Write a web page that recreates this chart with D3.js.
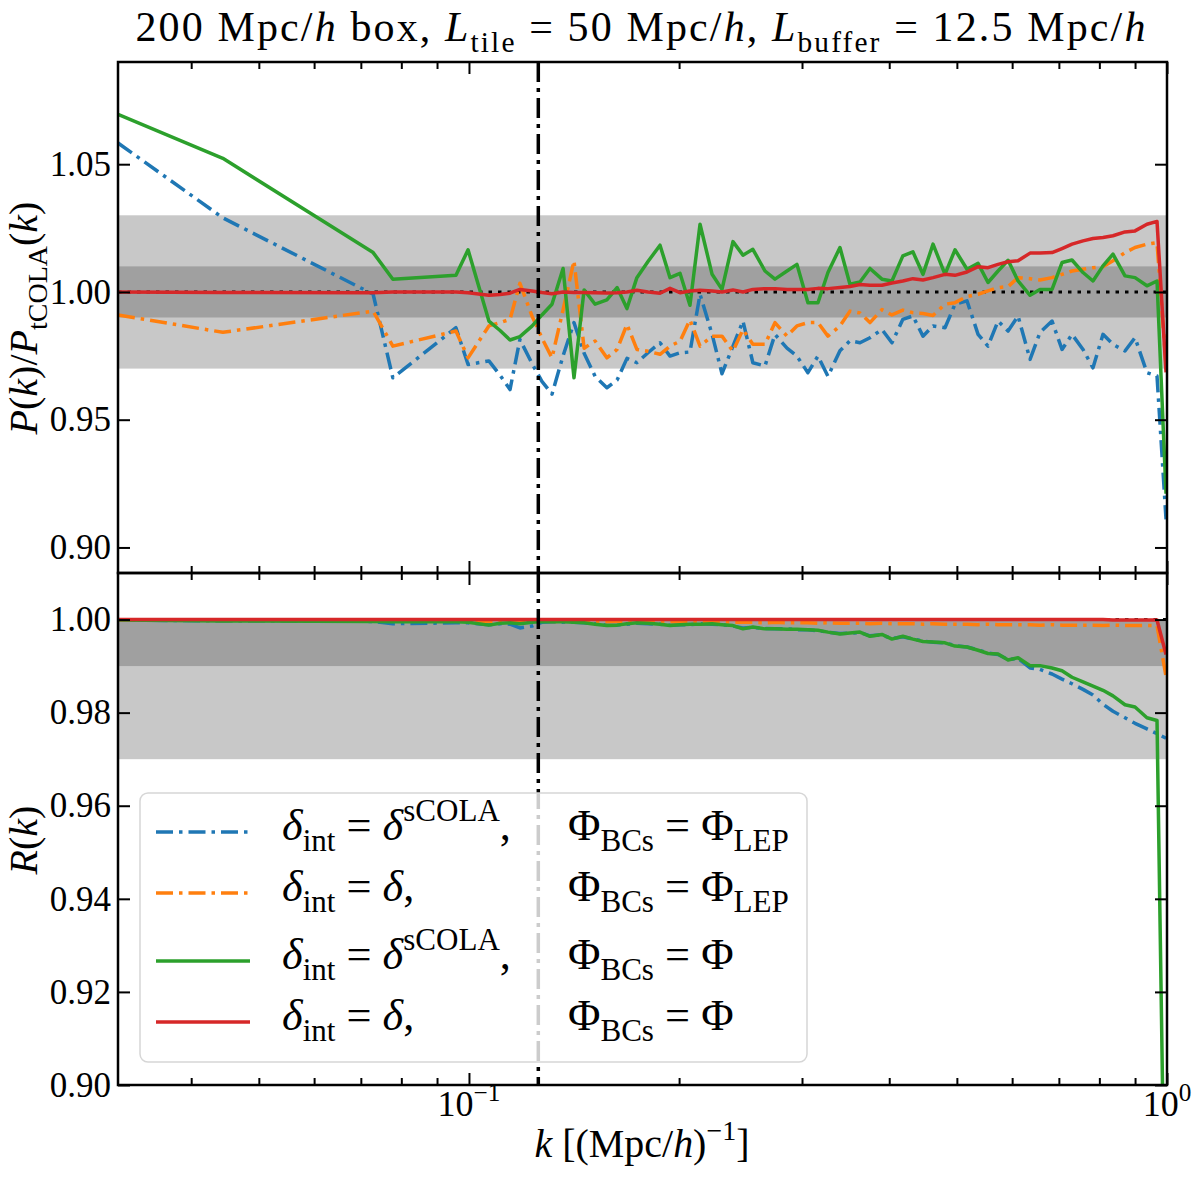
<!DOCTYPE html>
<html>
<head>
<meta charset="utf-8">
<script src="https://cdn.jsdelivr.net/npm/d3@7"></script>
<style>
  body { margin: 0; background: #fff; }
  svg { display: block; }
  text { font-family: "Liberation Serif", "DejaVu Serif", serif; fill: #000; white-space: pre; }
</style>
</head>
<body>
<svg id="chart" width="1200" height="1177"></svg>
<script>
// k bins, (Mpc/h)^-1
const kValues = [
  0.03142, 0.0444, 0.0729, 0.0778, 0.0958, 0.0997, 0.1068, 0.1108, 0.1145, 0.1183,
  0.1231, 0.1272, 0.1315, 0.1364, 0.1414, 0.1462, 0.1516, 0.1576, 0.1630, 0.1684,
  0.1740, 0.1805, 0.1878, 0.1941, 0.2006, 0.2073, 0.2143, 0.2230, 0.2304, 0.2389,
  0.2469, 0.2551, 0.2655, 0.2744, 0.2855, 0.2950, 0.3059, 0.3162, 0.3268, 0.3400,
  0.3514, 0.3632, 0.3754, 0.3905, 0.4036, 0.4184, 0.4325, 0.4471, 0.4622, 0.4808,
  0.4969, 0.5170, 0.5362, 0.5541, 0.5727, 0.5920, 0.6118, 0.6365, 0.6577, 0.6844,
  0.7073, 0.7310, 0.7580, 0.7834, 0.8097, 0.8368, 0.8706, 0.8999, 0.9360, 0.9676,
  0.9968
]

// P(k)/P_tCOLA(k)
const ratioBlue = [
  1.0583, 1.0290, 0.9991, 0.9664, 0.9860, 0.9716, 0.9730, 0.9674, 0.9618, 0.9814,
  0.9720, 0.9650, 0.9600, 0.9750, 0.9880, 0.9760, 0.9670, 0.9625, 0.9655, 0.9740,
  0.9723, 0.9762, 0.9801, 0.9749, 0.9762, 0.9765, 0.9991, 0.9834, 0.9680, 0.9788,
  0.9886, 0.9723, 0.9710, 0.9834, 0.9780, 0.9749, 0.9684, 0.9749, 0.9670, 0.9770,
  0.9809, 0.9801, 0.9821, 0.9853, 0.9801, 0.9893, 0.9906, 0.9827, 0.9867, 0.9860,
  0.9952, 0.9965, 0.9834, 0.9788, 0.9886, 0.9847, 0.9906, 0.9736, 0.9841, 0.9886,
  0.9775, 0.9834, 0.9775, 0.9703, 0.9834, 0.9795, 0.9769, 0.9821, 0.9684, 0.9671,
  0.9110
]
const ratioOrange = [
  0.9910, 0.9842, 0.9925, 0.9788, 0.9847, 0.9742, 0.9867, 0.9880, 0.9893, 1.0034,
  0.9906, 0.9820, 0.9742, 0.9930, 1.0122, 0.9780, 0.9808, 0.9742, 0.9775, 0.9873,
  0.9775, 0.9768, 0.9756, 0.9788, 0.9807, 0.9891, 0.9788, 0.9827, 0.9827, 0.9768,
  0.9853, 0.9795, 0.9795, 0.9880, 0.9827, 0.9867, 0.9880, 0.9880, 0.9827, 0.9867,
  0.9925, 0.9918, 0.9880, 0.9931, 0.9910, 0.9929, 0.9919, 0.9916, 0.9908, 0.9952,
  0.9958, 0.9982, 0.9991, 1.0004, 1.0017, 1.0021, 1.0056, 1.0052, 1.0047, 1.0056,
  1.0069, 1.0082, 1.0089, 1.0095, 1.0099, 1.0122, 1.0154, 1.0174, 1.0187, 1.0193,
  0.9710
]
const ratioGreen = [
  1.0695, 1.0523, 1.0154, 1.0050, 1.0065, 1.0165, 0.9886, 0.9849, 0.9812, 0.9825,
  0.9866, 0.9910, 0.9952, 1.0092, 0.9664, 1.0008, 0.9952, 0.9969, 1.0017, 0.9935,
  1.0056, 1.0119, 1.0183, 1.0056, 1.0073, 0.9948, 1.0265, 1.0069, 1.0010, 1.0197,
  1.0144, 1.0167, 1.0082, 1.0050, 1.0082, 1.0108, 0.9958, 0.9958, 1.0076, 1.0174,
  1.0030, 1.0039, 1.0092, 1.0050, 1.0043, 1.0141, 1.0157, 1.0069, 1.0187, 1.0069,
  1.0165, 1.0089, 1.0112, 1.0037, 1.0082, 1.0124, 1.0043, 0.9987, 1.0010, 1.0010,
  1.0115, 1.0125, 1.0076, 1.0043, 1.0102, 1.0148, 1.0063, 1.0056, 1.0024, 1.0043,
  0.9210
]
const ratioRed = [
  1.0000, 0.9998, 0.9997, 1.0000, 1.0000, 0.9997, 0.9987, 0.9990, 0.9995, 1.0010,
  1.0004, 0.9998, 0.9993, 1.0000, 0.9998, 0.9998, 0.9997, 0.9996, 0.9997, 1.0000,
  1.0007, 1.0000, 0.9995, 1.0014, 0.9997, 1.0004, 1.0007, 1.0004, 1.0000, 1.0008,
  1.0000, 1.0010, 1.0013, 1.0013, 1.0010, 1.0010, 1.0010, 1.0014, 1.0013, 1.0017,
  1.0021, 1.0029, 1.0026, 1.0026, 1.0035, 1.0043, 1.0052, 1.0047, 1.0056, 1.0069,
  1.0065, 1.0078, 1.0099, 1.0095, 1.0108, 1.0118, 1.0122, 1.0152, 1.0152, 1.0154,
  1.0170, 1.0187, 1.0200, 1.0209, 1.0213, 1.0220, 1.0235, 1.0239, 1.0265, 1.0276,
  0.9685
]

// R(k)
const corrBlue = [
  0.9999, 0.9997, 0.9996, 0.9991, 0.9993, 0.9993, 0.9989, 0.9991, 0.9990, 0.9982,
  0.9986, 0.9994, 0.9995, 0.9994, 0.9994, 0.9993, 0.9991, 0.9988, 0.9988, 0.9990,
  0.9992, 0.9991, 0.9990, 0.9988, 0.9989, 0.9989, 0.9991, 0.9990, 0.9989, 0.9986,
  0.9982, 0.9983, 0.9981, 0.9980, 0.9980, 0.9978, 0.9978, 0.9976, 0.9973, 0.9970,
  0.9971, 0.9972, 0.9965, 0.9967, 0.9959, 0.9963, 0.9958, 0.9954, 0.9951, 0.9950,
  0.9944, 0.9941, 0.9935, 0.9928, 0.9925, 0.9914, 0.9917, 0.9896, 0.9893, 0.9883,
  0.9872, 0.9862, 0.9850, 0.9838, 0.9818, 0.9803, 0.9789, 0.9777, 0.9765, 0.9755,
  0.9745
]
const corrOrange = [
  0.9999, 0.9998, 0.9998, 0.9997, 0.9998, 0.9997, 0.9996, 0.9997, 0.9997, 0.9996,
  0.9997, 0.9997, 0.9996, 0.9996, 0.9997, 0.9996, 0.9996, 0.9995, 0.9996, 0.9996,
  0.9995, 0.9996, 0.9995, 0.9995, 0.9996, 0.9995, 0.9995, 0.9994, 0.9995, 0.9994,
  0.9994, 0.9994, 0.9993, 0.9994, 0.9993, 0.9993, 0.9993, 0.9992, 0.9993, 0.9992,
  0.9992, 0.9992, 0.9991, 0.9992, 0.9991, 0.9991, 0.9991, 0.9990, 0.9991, 0.9990,
  0.9990, 0.9990, 0.9989, 0.9990, 0.9989, 0.9989, 0.9989, 0.9989, 0.9988, 0.9989,
  0.9988, 0.9988, 0.9988, 0.9988, 0.9987, 0.9988, 0.9987, 0.9987, 0.9987, 0.9987,
  0.9878
]
const corrGreen = [
  0.9999, 0.9997, 0.9996, 0.9995, 0.9995, 0.9994, 0.9988, 0.9992, 0.9993, 0.9991,
  0.9994, 0.9996, 0.9995, 0.9995, 0.9994, 0.9993, 0.9990, 0.9987, 0.9988, 0.9991,
  0.9993, 0.9992, 0.9990, 0.9987, 0.9989, 0.9990, 0.9990, 0.9991, 0.9989, 0.9987,
  0.9980, 0.9984, 0.9980, 0.9980, 0.9979, 0.9979, 0.9978, 0.9977, 0.9973, 0.9969,
  0.9971, 0.9973, 0.9964, 0.9968, 0.9958, 0.9964, 0.9958, 0.9953, 0.9952, 0.9950,
  0.9943, 0.9941, 0.9934, 0.9927, 0.9926, 0.9913, 0.9918, 0.9901, 0.9901, 0.9896,
  0.9890, 0.9876, 0.9866, 0.9857, 0.9848, 0.9836, 0.9817, 0.9812, 0.9789, 0.9783,
  0.8500
]
const corrRed = [
  1.0000, 1.0000, 1.0000, 1.0000, 1.0000, 1.0000, 1.0000, 1.0000, 1.0000, 1.0000,
  1.0000, 1.0000, 1.0000, 1.0000, 1.0000, 1.0000, 1.0000, 1.0000, 1.0000, 1.0000,
  1.0000, 1.0000, 1.0000, 1.0000, 1.0000, 1.0000, 1.0000, 1.0000, 1.0000, 1.0000,
  1.0000, 1.0000, 1.0000, 1.0000, 1.0000, 1.0000, 1.0000, 1.0000, 1.0000, 1.0000,
  1.0000, 1.0000, 1.0000, 1.0000, 1.0000, 1.0000, 1.0000, 1.0000, 1.0000, 1.0000,
  1.0000, 1.0000, 1.0000, 1.0000, 1.0000, 1.0000, 1.0000, 1.0000, 1.0000, 1.0000,
  1.0000, 1.0000, 1.0000, 1.0000, 1.0000, 0.9999, 0.9999, 0.9999, 0.9999, 0.9999,
  0.9925
]

const kRange = [0.03142, 1.0]
const kTile = 0.1257          // 2 pi / L_tile
const ratioRange = [0.89, 1.09]
const corrRange = [0.90, 1.01]
const ratioTicks = [0.90, 0.95, 1.00, 1.05]
const corrTicks = [0.90, 0.92, 0.94, 0.96, 0.98, 1.00]
// tolerance bands: [outer, inner]
const ratioBands = [[0.97, 1.03], [0.99, 1.01]]
const corrBands = [[0.97, 1.00], [0.99, 1.00]]
const kMajor = [0.1, 1.0]
const kMinor = [0.04, 0.05, 0.06, 0.07, 0.08, 0.09, 0.2, 0.3, 0.4, 0.5, 0.6, 0.7, 0.8, 0.9]

const series = [
  { color: "#1f77b4", dash: "17,6,3.5,6", top: ratioBlue, bot: corrBlue,
    left: [{ t: "δ", it: 1 }, { t: "int", sub: 1 }, { t: " = " }, { t: "δ", it: 1 }, { t: "sCOLA", sup: 1 }, { t: "," }],
    right: [{ t: "Φ" }, { t: "BCs", sub: 1 }, { t: " = Φ" }, { t: "LEP", sub: 1 }] },
  { color: "#ff7f0e", dash: "17,6,3.5,6", top: ratioOrange, bot: corrOrange,
    left: [{ t: "δ", it: 1 }, { t: "int", sub: 1 }, { t: " = " }, { t: "δ", it: 1 }, { t: "," }],
    right: [{ t: "Φ" }, { t: "BCs", sub: 1 }, { t: " = Φ" }, { t: "LEP", sub: 1 }] },
  { color: "#2ca02c", dash: null, top: ratioGreen, bot: corrGreen,
    left: [{ t: "δ", it: 1 }, { t: "int", sub: 1 }, { t: " = " }, { t: "δ", it: 1 }, { t: "sCOLA", sup: 1 }, { t: "," }],
    right: [{ t: "Φ" }, { t: "BCs", sub: 1 }, { t: " = Φ" }] },
  { color: "#d62728", dash: null, top: ratioRed, bot: corrRed,
    left: [{ t: "δ", it: 1 }, { t: "int", sub: 1 }, { t: " = " }, { t: "δ", it: 1 }, { t: "," }],
    right: [{ t: "Φ" }, { t: "BCs", sub: 1 }, { t: " = Φ" }] }
]

const left = 118, right = 1167
const serif = "\"Liberation Serif\", \"DejaVu Serif\", serif"
const svg = d3.select("#chart")

const x = d3.scaleLog().domain(kRange).range([left, right])
const panels = [
  { id: "top", y: d3.scaleLinear().domain(ratioRange).range([573, 62]), key: "top", ticks: ratioTicks, bands: ratioBands },
  { id: "bot", y: d3.scaleLinear().domain(corrRange).range([1085, 573]), key: "bot", ticks: corrTicks, bands: corrBands }
]

// text with sub/superscripts built from tspans
const addMath = (sel, parts, size) => {
  let shift = 0
  parts.forEach(p => {
    const target = p.sub ? size * 0.25 : p.sup ? -size * 0.42 : 0
    sel.append("tspan")
      .attr("dy", target - shift)
      .style("font-size", (p.sub || p.sup ? size * 0.7 : size) + "px")
      .style("font-style", p.it ? "italic" : "normal")
      .text(p.t)
    shift = target
  })
}

const fitMath = (sel, parts, size, width) => {
  addMath(sel, parts, size)
  const w = sel.node().getBBox().width
  sel.selectAll("tspan").remove()
  const fitted = size * width / w
  addMath(sel, parts, fitted)
  return fitted
}

// keep the size, widen with a little letter spacing
const spreadMath = (sel, parts, size, width) => {
  addMath(sel, parts, size)
  const w = sel.node().getBBox().width
  const n = parts.reduce((acc, p) => acc + p.t.length, 0)
  sel.style("letter-spacing", Math.max(0, (width - w) / n) + "px")
}

const line = yScale => d3.line().x((d, i) => x(kValues[i])).y(d => yScale(d))

panels.forEach(p => {
  const y = p.y
  const [yb, yt] = y.range()
  const g = svg.append("g")

  g.append("clipPath").attr("id", "clip-" + p.id)
    .append("rect").attr("x", left).attr("y", yt).attr("width", right - left).attr("height", yb - yt)

  const body = g.append("g").attr("clip-path", `url(#clip-${p.id})`)

  body.selectAll("rect.band")
    .data(p.bands)
    .enter()
    .append("rect")
      .classed("band", true)
      .attr("x", left).attr("width", right - left)
      .attr("y", d => y(d[1])).attr("height", d => y(d[0]) - y(d[1]))
      .attr("fill", (d, i) => i === 0 ? "#c8c8c8" : "#a0a0a0")

  body.append("line")
    .attr("x1", left).attr("x2", right)
    .attr("y1", y(1)).attr("y2", y(1))
    .attr("stroke", "#000").attr("stroke-width", 3)
    .attr("stroke-dasharray", "3.5,6")

  series.forEach(s => {
    body.append("path")
      .datum(s[p.key])
      .attr("d", line(y))
      .attr("fill", "none")
      .attr("stroke", s.color)
      .attr("stroke-width", 3.5)
      .attr("stroke-linejoin", "round")
      .attr("stroke-dasharray", s.dash)
  })

  body.append("line")
    .attr("x1", x(kTile)).attr("x2", x(kTile))
    .attr("y1", yt).attr("y2", yb)
    .attr("stroke", "#000").attr("stroke-width", 3.5)
    .attr("stroke-dasharray", "20,6,4,6")

  // ticks on all four sides, pointing in
  const tickStyle = a => {
    a.attr("font-family", serif).attr("font-size", 35)
    a.select(".domain").remove()
    a.selectAll("line").attr("stroke", "#000").attr("stroke-width", 2)
    a.selectAll("text").style("font-size", "35px").style("font-family", serif)
  }
  g.append("g").attr("transform", `translate(${left},0)`)
    .call(d3.axisLeft(y).tickValues(p.ticks).tickSize(-12).tickPadding(7).tickFormat(d3.format(".2f")))
    .call(tickStyle)
  g.append("g").attr("transform", `translate(${right},0)`)
    .call(d3.axisRight(y).tickValues(p.ticks).tickSize(-12).tickFormat(""))
    .call(tickStyle)
  ;[[d3.axisTop, yt], [d3.axisBottom, yb]].forEach(([axis, pos]) => {
    g.append("g").attr("transform", `translate(0,${pos})`)
      .call(axis(x).tickValues(kMajor).tickSize(-12).tickFormat(""))
      .call(tickStyle)
    g.append("g").attr("transform", `translate(0,${pos})`)
      .call(axis(x).tickValues(kMinor).tickSize(-7).tickFormat(""))
      .call(tickStyle)
  })

  g.append("rect")
    .attr("x", left).attr("y", yt).attr("width", right - left).attr("height", yb - yt)
    .attr("fill", "none").attr("stroke", "#000").attr("stroke-width", 2.5)
})

// x tick labels
const xLabels = [[0.1, "−1"], [1.0, "0"]]
xLabels.forEach(([k, e]) => {
  const t = svg.append("text").attr("x", x(k)).attr("y", 1116).attr("text-anchor", "middle")
  addMath(t, [{ t: "10" }, { t: e, sup: 1 }], 36)
})

// title and axis labels
const title = svg.append("text").attr("x", (left + right) / 2 - 1).attr("y", 41).attr("text-anchor", "middle")
spreadMath(title, [
  { t: "200 Mpc/" }, { t: "h", it: 1 }, { t: " box, " }, { t: "L", it: 1 }, { t: "tile", sub: 1 },
  { t: " = 50 Mpc/" }, { t: "h", it: 1 }, { t: ", " }, { t: "L", it: 1 }, { t: "buffer", sub: 1 },
  { t: " = 12.5 Mpc/" }, { t: "h", it: 1 }
], 42, 1012)

const xLabel = svg.append("text").attr("x", 642).attr("y", 1157).attr("text-anchor", "middle")
fitMath(xLabel, [
  { t: "k", it: 1 }, { t: " [(Mpc/" }, { t: "h", it: 1 }, { t: ")" }, { t: "−1", sup: 1 }, { t: "]" }
], 38, 215)

const ySize = 40
const yLabelTop = svg.append("text").attr("transform", "translate(37,318) rotate(-90)").attr("text-anchor", "middle")
addMath(yLabelTop, [
  { t: "P", it: 1 }, { t: "(" }, { t: "k", it: 1 }, { t: ")/" }, { t: "P", it: 1 }, { t: "tCOLA", sub: 1 },
  { t: "(" }, { t: "k", it: 1 }, { t: ")" }
], ySize)

const yLabelBot = svg.append("text").attr("transform", "translate(37,840) rotate(-90)").attr("text-anchor", "middle")
addMath(yLabelBot, [{ t: "R", it: 1 }, { t: "(" }, { t: "k", it: 1 }, { t: ")" }], ySize)

// legend
const legend = svg.append("g")
legend.append("rect")
  .attr("x", 140).attr("y", 793).attr("width", 667).attr("height", 269).attr("rx", 8)
  .attr("fill", "#fff").attr("fill-opacity", 0.8)
  .attr("stroke", "#d6d6d6").attr("stroke-width", 1.5)

const rowY = [832, 893, 961, 1022]
let legendSize = null
series.forEach((s, i) => {
  legend.append("line")
    .attr("x1", 156).attr("x2", 250)
    .attr("y1", rowY[i]).attr("y2", rowY[i])
    .attr("stroke", s.color).attr("stroke-width", 3.5)
    .attr("stroke-dasharray", s.dash)
  const t1 = legend.append("text").attr("x", 282).attr("y", rowY[i] + 8)
  if (legendSize === null) {
    legendSize = fitMath(t1, s.left, 40, 229)
  } else {
    addMath(t1, s.left, legendSize)
  }
  const t2 = legend.append("text").attr("x", 568).attr("y", rowY[i] + 8)
  addMath(t2, s.right, legendSize)
})
</script>
</body>
</html>
